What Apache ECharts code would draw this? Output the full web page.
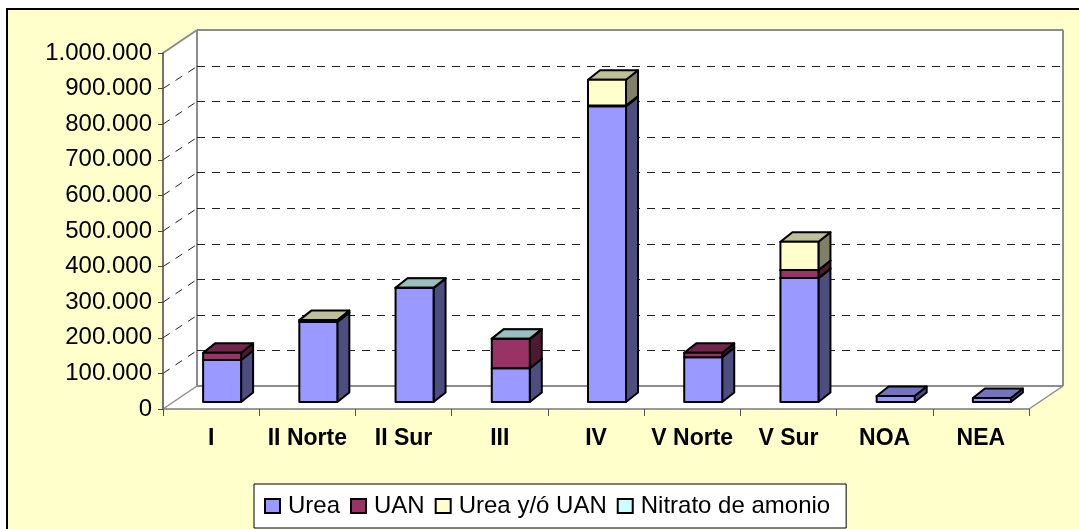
<!DOCTYPE html>
<html>
<head>
<meta charset="utf-8">
<style>html,body{margin:0;padding:0;background:#fff}#c{width:1079px;height:529px}</style>
<script src="https://cdn.jsdelivr.net/npm/echarts@6/dist/echarts.min.js"></script>
</head>
<body>
<div id="c"></div>
<script>
var categories = ['I','II Norte','II Sur','III','IV','V Norte','V Sur','NOA','NEA'];
var urea       = [118000,225000,320000,95000,831000,126000,348000,17000,11000];
var uan        = [20000,0,0,82000,2000,12000,23000,0,0];
var ureaYoUan  = [0,5000,0,0,72000,0,79000,0,0];
var nitrato    = [0,0,1000,1000,0,0,0,0,0];
var valueTicks = [0,100000,200000,300000,400000,500000,600000,700000,800000,900000,1000000];

var names = ['Urea','UAN','Urea y/ó UAN','Nitrato de amonio'];
var faces = [
  {front:'#9999FF', side:'#4D4D80', top:'#7373BF'},
  {front:'#993366', side:'#4D1A33', top:'#73264D'},
  {front:'#FFFFCC', side:'#808066', top:'#BFBF99'},
  {front:'#CCFFFF', side:'#668080', top:'#99BFBF'}
];
var FONT = '"Liberation Sans", Arial, sans-serif';
var WALL = {x:34, y:-23};       // depth of the chart box
var BAR_OFF = {x:11, y:-7};     // bar position on the floor
var BAR_DEPTH = {x:12, y:-9.5}; // depth of each bar
var GREY = '#8C8C8C';

function poly(pts, fill, stroke, lw){
  return {type:'polygon', shape:{points:pts},
    style:{fill:fill, stroke:stroke, lineWidth:lw, lineJoin:'round'}};
}
function renderWall(params, api){
  var v = api.value(1);
  var n = categories.length;
  var lf = api.coord([0, v]);
  var rt = api.coord([n-1, v]);
  var half = api.size([1,0])[0]/2;
  var x0 = lf[0]-half, x1 = rt[0]+half, y = lf[1];
  var kids = [];
  var seg = function(a,b,dash,lw,col){
    return {type:'line', shape:{x1:a[0],y1:a[1],x2:b[0],y2:b[1]},
      style:{stroke:col, lineWidth:lw, lineDash:dash}};
  };
  if (params.dataIndex === 0) {
    var top = api.coord([0, valueTicks[valueTicks.length-1]])[1];
    kids.push(poly([[x0,y],[x0+WALL.x,y+WALL.y],[x1+WALL.x,y+WALL.y],[x1,y]], '#fff', null, 0));
    kids.push(poly([[x0,top],[x0+WALL.x,top+WALL.y],[x0+WALL.x,y+WALL.y],[x0,y]], '#fff', null, 0));
    kids.push(poly([[x0+WALL.x,top+WALL.y],[x1+WALL.x,top+WALL.y],[x1+WALL.x,y+WALL.y],[x0+WALL.x,y+WALL.y]], '#fff', null, 0));
    kids.push(seg([x0,y],[x0+WALL.x,y+WALL.y],null,1.5,GREY));
    kids.push(seg([x1,y],[x1+WALL.x,y+WALL.y],null,1.5,GREY));
    kids.push(seg([x0+WALL.x,y+WALL.y],[x1+WALL.x,y+WALL.y],null,2,GREY));
    kids.push(seg([x0,top],[x0+WALL.x,top+WALL.y],null,2,GREY));
    kids.push(seg([x0+WALL.x,top+WALL.y],[x1+WALL.x,top+WALL.y],null,2,GREY));
    kids.push(seg([x0+WALL.x,top+WALL.y],[x0+WALL.x,y+WALL.y],null,2,GREY));
    kids.push(seg([x1+WALL.x,top+WALL.y],[x1+WALL.x,y+WALL.y],null,2,GREY));
  } else if (params.dataIndex < valueTicks.length-1) {
    var by = Math.round(y+WALL.y)+0.5;
    kids.push(seg([x0,y],[x0+WALL.x,by],[8,7],1,'#222'));
    kids.push(seg([x0+WALL.x,by],[x1+WALL.x,by],[8,7],1,'#222'));
  }
  return {type:'group', children:kids};
}
function barRenderer(face){
  return function(params, api){
    var lo = api.value(1), hi = api.value(2);
    if (hi <= lo) return null;
    var w = api.size([1,0])[0]*0.395;
    var a = api.coord([api.value(0), lo]);
    var b = api.coord([api.value(0), hi]);
    var xl = a[0]+BAR_OFF.x-w/2, xr = xl+w;
    var yb = a[1]+BAR_OFF.y, yt = b[1]+BAR_OFF.y;
    var dx = BAR_DEPTH.x, dy = BAR_DEPTH.y, lw = 2;
    return {type:'group', children:[
      poly([[xr,yb],[xr+dx,yb+dy],[xr+dx,yt+dy],[xr,yt]], face.side, '#000', lw),
      poly([[xl,yt],[xl+dx,yt+dy],[xr+dx,yt+dy],[xr,yt]], face.top, '#000', lw),
      poly([[xl,yb],[xr,yb],[xr,yt],[xl,yt]], face.front, '#000', lw)
    ]};
  };
}
var cum = categories.map(function(){return 0;});
var barSeries = [urea,uan,ureaYoUan,nitrato].map(function(vals,s){
  var rows = vals.map(function(v,i){ var lo = cum[i]; cum[i] += v; return [i, lo, cum[i]]; });
  return {
    type:'custom', name:names[s], z:3, data:rows, renderItem:barRenderer(faces[s]),
    encode:{x:0, y:[1,2]},
    itemStyle:{color:faces[s].front, borderColor:'#000', borderWidth:1.5}
  };
});
var chart = echarts.init(document.getElementById('c'), null, {renderer:'canvas'});
chart.setOption({
  animation:false,
  backgroundColor:'#fff',
  graphic:[
    {type:'rect', z:-10, shape:{x:7,y:9,width:1080,height:530}, style:{fill:'#FFFFCC', stroke:'#000', lineWidth:2}}
  ],
  grid:{left:163, right:50, top:53, bottom:120},
  legend:{
    data:names, left:254, top:484, orient:'horizontal', selectedMode:false,
    backgroundColor:'#fff', borderColor:'#000', borderWidth:1, borderRadius:0,
    padding:[10,16,10,10], itemGap:10, itemWidth:15, itemHeight:14, icon:'rect',
    textStyle:{fontFamily:FONT, fontSize:24, color:'#000', padding:[0,0,2,3]}
  },
  xAxis:{
    type:'category', data:categories, z:5, boundaryGap:true,
    axisLine:{show:true, lineStyle:{color:'#7A7A7A', width:1.5}},
    axisTick:{show:true, length:7, alignWithLabel:false, lineStyle:{color:'#555'}},
    axisLabel:{fontFamily:FONT, fontSize:23, fontWeight:'bold', color:'#000', margin:18, interval:0},
    splitLine:{show:false}
  },
  yAxis:{
    type:'value', min:valueTicks[0], max:valueTicks[valueTicks.length-1], interval:valueTicks[1], z:5,
    axisLine:{show:true, lineStyle:{color:'#444', width:1.5}},
    axisTick:{show:true, length:5, lineStyle:{color:'#444'}},
    axisLabel:{fontFamily:FONT, fontSize:24, color:'#000', margin:11, padding:[2,0,0,0],
      formatter:function(v){return String(v).replace(/\B(?=(\d{3})+$)/g,'.');}},
    splitLine:{show:false}
  },
  series:[{
    type:'custom', name:'walls', z:1, silent:true,
    data:valueTicks.map(function(v,i){return [i,v];}),
    renderItem:renderWall, encode:{y:1}
  }].concat(barSeries)
});
</script>
</body>
</html>
